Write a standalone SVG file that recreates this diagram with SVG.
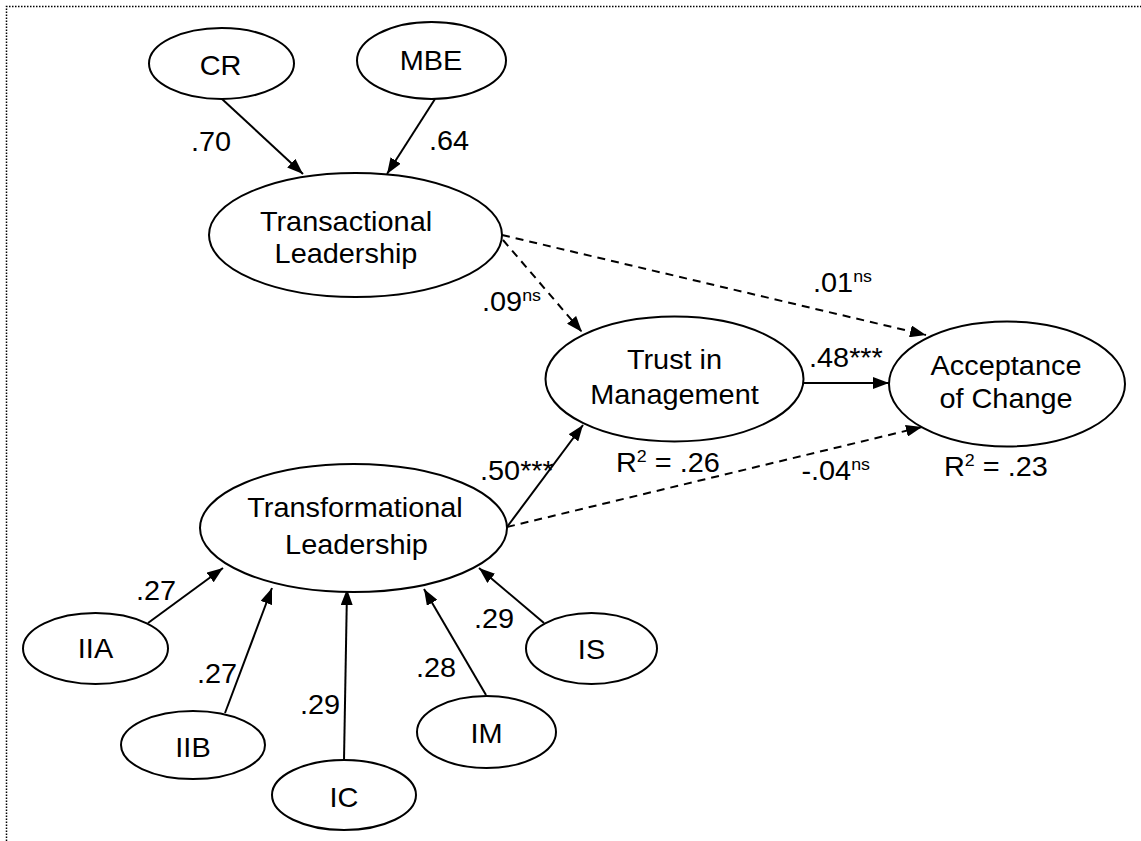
<svg xmlns="http://www.w3.org/2000/svg" width="1141" height="841" viewBox="0 0 1141 841">
<style>
.n ellipse{fill:#fff;stroke:#000;stroke-width:2}
text{font-family:"Liberation Sans",Arial,sans-serif;font-size:27.5px;fill:#000}
.m{text-anchor:middle}
.c line{stroke:#000;stroke-width:2;fill:none;marker-end:url(#ah)}
.c .d{stroke-dasharray:8 6}
.sup{font-size:17px}
.border{stroke:#000;stroke-width:1.5;stroke-dasharray:1.5 1.5;fill:none}
</style>
<defs>
<marker id="ah" markerWidth="16" markerHeight="12" refX="16" refY="6" orient="auto" markerUnits="userSpaceOnUse"><path d="M0,0 L16,6 L0,12 z" fill="#000"/></marker>
</defs>
<rect width="1141" height="841" fill="#fff"/>
<path class="border" d="M6.5,841 V6.5 H1141"/>
<g class="c" id="connectors">
<line x1="222" y1="99" x2="303" y2="174"/>
<line x1="435" y1="99" x2="387" y2="174"/>
<line class="d" x1="503" y1="240" x2="582" y2="332"/>
<line class="d" x1="502" y1="235" x2="926" y2="335"/>
<line x1="803" y1="383" x2="889" y2="383"/>
<line x1="507" y1="527" x2="583" y2="425"/>
<line class="d" x1="507" y1="527" x2="922" y2="427"/>
<line x1="148" y1="623" x2="223" y2="568"/>
<line x1="225" y1="713" x2="272" y2="588"/>
<line x1="344" y1="760" x2="347" y2="589"/>
<line x1="486" y1="695" x2="424" y2="589"/>
<line x1="544" y1="623" x2="479" y2="568"/>
</g>
<g class="n" id="CR"><ellipse cx="221.5" cy="63.5" rx="72.5" ry="35.5"/><text class="m" transform="translate(220.5,75) scale(1.05,1)">CR</text></g>
<g class="n" id="MBE"><ellipse cx="431.5" cy="60.5" rx="74.5" ry="38.5"/><text class="m" transform="translate(431,70) scale(1.05,1)">MBE</text></g>
<g class="n" id="transactional"><ellipse cx="355.5" cy="235" rx="146.5" ry="62"/><text class="m" transform="translate(346,231) scale(1.05,1)">Transactional</text><text class="m" transform="translate(346,263) scale(1.05,1)">Leadership</text></g>
<g class="n" id="trust"><ellipse cx="674.5" cy="379" rx="129" ry="62.5"/><text class="m" transform="translate(674.5,369) scale(1.05,1)">Trust in</text><text class="m" transform="translate(674.5,404) scale(1.05,1)">Management</text></g>
<g class="n" id="acceptance"><ellipse cx="1007" cy="384" rx="118" ry="62.5"/><text class="m" transform="translate(1006,375) scale(1.05,1)">Acceptance</text><text class="m" transform="translate(1006,408) scale(1.05,1)">of Change</text></g>
<g class="n" id="transformational"><ellipse cx="353.5" cy="528" rx="153.5" ry="64"/><text class="m" transform="translate(355,517) scale(1.05,1)">Transformational</text><text class="m" transform="translate(356.5,554) scale(1.05,1)">Leadership</text></g>
<g class="n" id="IIA"><ellipse cx="95.5" cy="648.5" rx="72.5" ry="35.5"/><text class="m" transform="translate(95.5,658) scale(1.05,1)">IIA</text></g>
<g class="n" id="IIB"><ellipse cx="193" cy="745" rx="72" ry="34"/><text class="m" transform="translate(193,757) scale(1.05,1)">IIB</text></g>
<g class="n" id="IC"><ellipse cx="344" cy="795" rx="72" ry="35"/><text class="m" transform="translate(344,807) scale(1.05,1)">IC</text></g>
<g class="n" id="IM"><ellipse cx="486.5" cy="732" rx="69.5" ry="36"/><text class="m" transform="translate(486.5,743) scale(1.05,1)">IM</text></g>
<g class="n" id="IS"><ellipse cx="591.5" cy="648.5" rx="65.5" ry="35.5"/><text class="m" transform="translate(591.5,659) scale(1.05,1)">IS</text></g>
<g id="labels">
<text transform="translate(191,150.5) scale(1.05,1)">.70</text>
<text transform="translate(429,150) scale(1.05,1)">.64</text>
<text transform="translate(482,311) scale(1.05,1)">.09<tspan class="sup" dy="-10">ns</tspan></text>
<text transform="translate(813,292) scale(1.05,1)">.01<tspan class="sup" dy="-10">ns</tspan></text>
<text transform="translate(809,367) scale(1.05,1)">.48***</text>
<text transform="translate(616,472) scale(1.05,1)">R<tspan class="sup" dy="-10">2</tspan><tspan dy="10"> = .26</tspan></text>
<text transform="translate(944,476) scale(1.05,1)">R<tspan class="sup" dy="-10">2</tspan><tspan dy="10"> = .23</tspan></text>
<text transform="translate(480,480) scale(1.05,1)">.50***</text>
<text transform="translate(870,480) scale(1.05,1)" style="text-anchor:end">-.04<tspan class="sup" dy="-10">ns</tspan></text>
<text transform="translate(136,600) scale(1.05,1)">.27</text>
<text transform="translate(197,683) scale(1.05,1)">.27</text>
<text transform="translate(300,714) scale(1.05,1)">.29</text>
<text transform="translate(416,677) scale(1.05,1)">.28</text>
<text transform="translate(474,628) scale(1.05,1)">.29</text>
</g>
</svg>
